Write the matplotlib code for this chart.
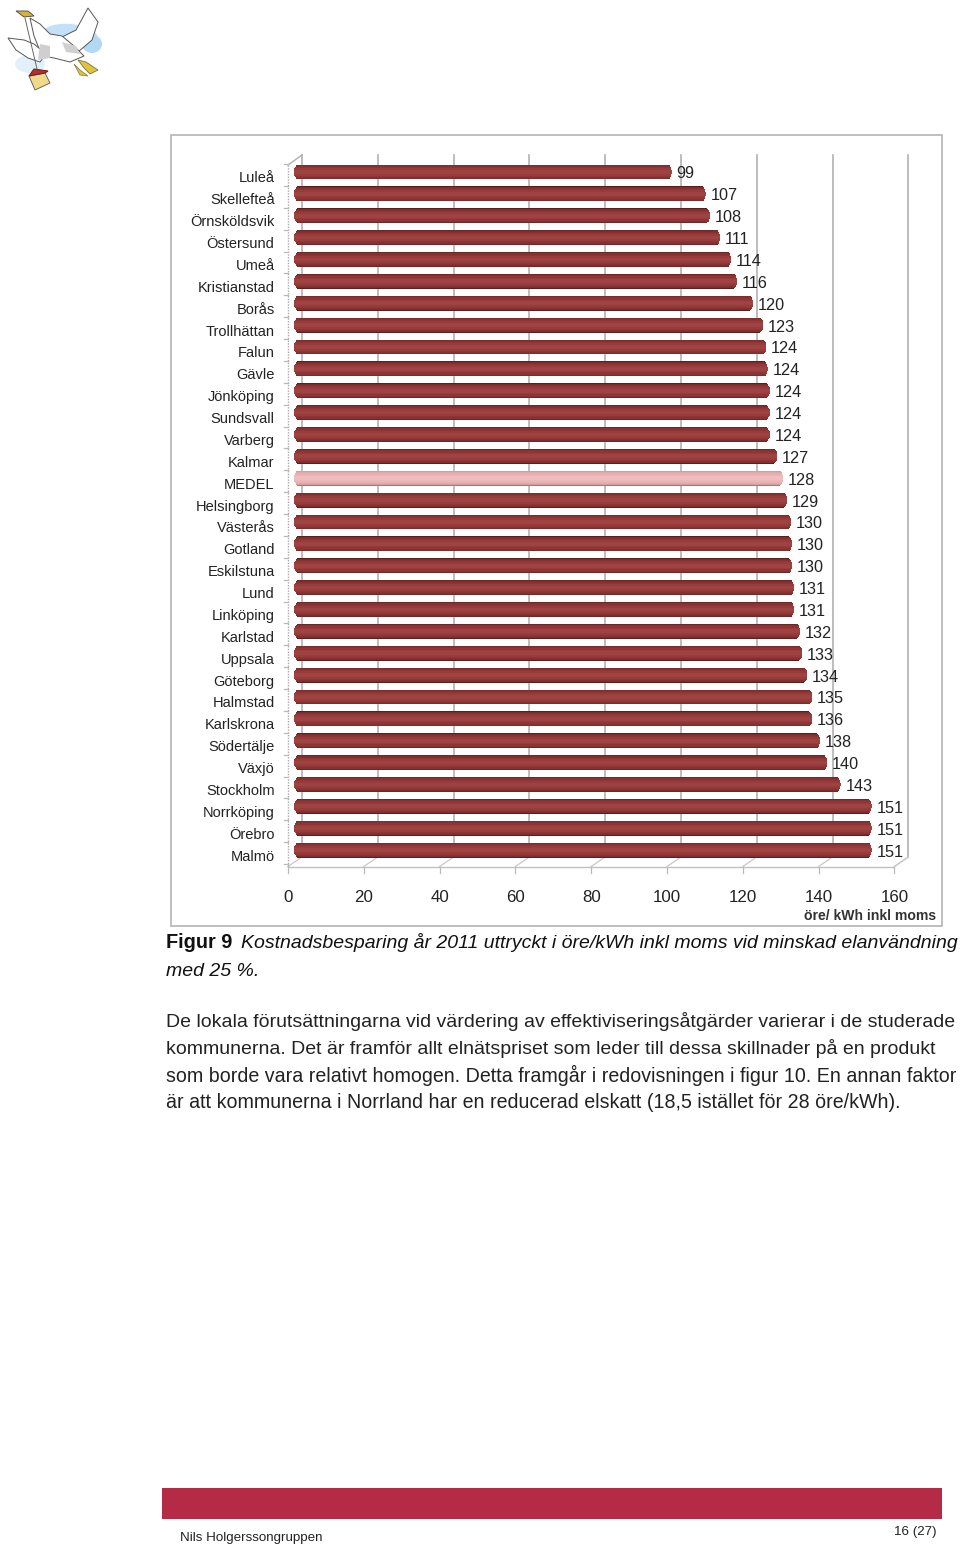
import numpy as np
import matplotlib
matplotlib.use("Agg")
import matplotlib.pyplot as plt
from matplotlib.patches import Rectangle, Ellipse, Polygon
from matplotlib.lines import Line2D
from matplotlib.transforms import ScaledTranslation

plt.rcParams['font.family'] = ['Liberation Sans', 'DejaVu Sans']

categories = ["Luleå","Skellefteå","Örnsköldsvik","Östersund","Umeå","Kristianstad","Borås",
              "Trollhättan","Falun","Gävle","Jönköping","Sundsvall","Varberg","Kalmar","MEDEL",
              "Helsingborg","Västerås","Gotland","Eskilstuna","Lund","Linköping","Karlstad",
              "Uppsala","Göteborg","Halmstad","Karlskrona","Södertälje","Växjö","Stockholm",
              "Norrköping","Örebro","Malmö"]
values = [99,107,108,111,114,116,120,123,124,124,124,124,124,127,128,129,130,130,130,131,131,
          132,133,134,135,136,138,140,143,151,151,151]
bar_lengths = [99.7,108.7,109.8,112.5,115.4,117,121.2,123.9,124.7,125,125.6,125.6,125.6,
               127.6,129.1,130.2,131.2,131.5,131.5,132,132,133.6,134.2,135.5,136.8,136.8,
               138.9,140.8,144.3,152.5,152.5,152.5]
xticks = [0,20,40,60,80,100,120,140,160]
unit = "öre/ kWh inkl moms"

W, H = 960, 1547
fig = plt.figure(figsize=(W/100, H/100), dpi=100, facecolor='white')

def axpx(l, t, r, b, **kw):
    return fig.add_axes([l/W, 1-b/H, (r-l)/W, (b-t)/H], **kw)

pg = axpx(0, 0, W, H, zorder=0)
pg.set_xlim(0, W); pg.set_ylim(H, 0); pg.axis('off')

# logo
pg.add_patch(Ellipse((70, 36), 56, 24, angle=5, color='#c4e0f6', lw=0))
pg.add_patch(Ellipse((92, 44), 20, 18, color='#b2d8f4', lw=0))
pg.add_patch(Ellipse((30, 64), 30, 18, color='#e2f0fa', lw=0))
wk = dict(facecolor='white', edgecolor='#555555', lw=0.7)
pg.add_patch(Polygon([(88,8),(98,22),(92,40),(78,52),(62,50),(60,38),(76,30)], **wk))
pg.add_patch(Polygon([(30,18),(40,24),(50,34),(62,36),(74,46),(84,56),(70,62),(54,58),(42,56),(34,36)], **wk))
pg.add_patch(Polygon([(8,38),(24,40),(34,44),(46,54),(40,62),(28,58),(16,50)], **wk))
pg.add_patch(Polygon([(40,44),(50,46),(50,58),(38,60)], facecolor='#cfcfcf', lw=0))
pg.add_patch(Polygon([(62,42),(76,46),(80,54),(66,52)], facecolor='#d0d0d0', lw=0))
pg.add_patch(Polygon([(16,11),(28,11),(34,16),(24,17)], facecolor='#d9b23c', edgecolor='#444444', lw=0.6))
pg.add_patch(Polygon([(78,60),(86,62),(98,70),(90,74),(84,68)], facecolor='#e0c23c', edgecolor='#777744', lw=0.6))
pg.add_patch(Polygon([(74,64),(80,70),(88,76),(80,75)], facecolor='#e0c23c', edgecolor='#777744', lw=0.5))
pg.add_patch(Polygon([(29,76),(45,73),(50,83),(35,90)], facecolor='#efd98a', edgecolor='#555555', lw=0.6))
pg.add_patch(Polygon([(29,76),(34,69),(48,71),(45,73)], facecolor='#b33030', edgecolor='#7a1f1f', lw=0.8))
pg.plot([25, 37], [18, 69], color='#666666', lw=0.7)

# chart frame
pg.add_patch(Rectangle((170.5, 134.5), 771.5, 791.5, fill=False, ec='#b4b4b4', lw=1.2))

# footer
pg.add_patch(Rectangle((162, 1488), 780, 30.5, color='#b52b45', lw=0))
pg.text(180, 1541, "Nils Holgerssongruppen", fontsize=9.6, va='baseline', color='#222222')
pg.text(937, 1535, "16 (27)", fontsize=9.6, va='baseline', ha='right', color='#222222')

# caption + body text
pg.text(166, 947.5, "Figur 9", fontsize=14.3, fontweight='bold', va='baseline', color='#111111')
pg.text(241, 947.5, "Kostnadsbesparing år 2011 uttryckt i öre/kWh inkl moms vid minskad elanvändning",
        fontsize=14.0, style='italic', va='baseline', color='#111111')
pg.text(166, 975.5, "med 25 %.", fontsize=14.0, style='italic', va='baseline', color='#111111')
body = ["De lokala förutsättningarna vid värdering av effektiviseringsåtgärder varierar i de studerade",
        "kommunerna. Det är framför allt elnätspriset som leder till dessa skillnader på en produkt",
        "som borde vara relativt homogen. Detta framgår i redovisningen i figur 10. En annan faktor",
        "är att kommunerna i Norrland har en reducerad elskatt (18,5 istället för 28 öre/kWh)."]
for line, y, fs in zip(body, [1027, 1054, 1081.5, 1108], [14.0, 14.0, 14.1, 14.15]):
    pg.text(166, y, line, fontsize=fs, va='baseline', color='#222222')

# chart axes
ax = axpx(294, 161, 294 + 160*3.79, 861, zorder=2)
ax.patch.set_alpha(0)
ax.set_xlim(0, 160)
ax.set_ylim(31.5, -0.5)
for s in ax.spines.values():
    s.set_visible(False)

n = len(categories)
ypos = np.arange(n)
fracs = [1.00, 0.96, 0.90, 0.80, 0.66, 0.48, 0.26]
reds  = ['#5a2020', '#6e2828', '#7e2d2d', '#883131', '#8f3535', '#973b3b', '#9e4242']
pinks = ['#a87676', '#c48e8e', '#d69f9f', '#e0a8a8', '#e6afaf', '#ebb6b6', '#efbdbd']
height = 0.68
radius = 1.1
for idx, (f, red, pink) in enumerate(zip(fracs, reds, pinks)):
    inset = radius*(1-np.sqrt(1-(f*0.97)**2))
    lengths = [b - 2*inset for b in bar_lengths]
    colors = [pink if c == "MEDEL" else red for c in categories]
    ax.barh(ypos, lengths, height=height*f, left=inset, color=colors, lw=0, zorder=5+idx)

for i, (v, b) in enumerate(zip(values, bar_lengths)):
    ax.annotate(str(v), (b, i), xytext=(4.5, -2), textcoords='offset pixels', va='center',
                ha='left', fontsize=11.7, color='#222222', zorder=20, annotation_clip=False)

ax.set_xticks([])
ax.set_yticks(ypos, labels=categories)
ax.tick_params(axis='y', length=0, pad=14, labelsize=10.5, labelcolor='#222222')
shift = ScaledTranslation(0, -5/100, fig.dpi_scale_trans)
for lab in ax.get_yticklabels():
    lab.set_transform(lab.get_transform() + shift)

# 3-D frame
floor_y, back_y, top_y = 866.5, 857, 155
fx = lambda v: 288 + v*3.79
grid = '#b2b2b2'
for v in xticks:
    x = fx(v)
    pg.add_line(Line2D([x+14, x+14], [top_y, back_y], color=grid, lw=1.2))
    pg.add_line(Line2D([x+14, x], [back_y, floor_y], color='#c8c8c8', lw=0.9))
    pg.add_line(Line2D([x, x], [floor_y, floor_y+6], color='#b8b8b8', lw=0.9))
    pg.text(x, 902, str(v), ha='center', va='baseline', fontsize=12.2, color='#222222')
pg.add_line(Line2D([fx(0), fx(160)], [floor_y, floor_y], color='#c0c0c0', lw=1.0))
pg.add_line(Line2D([fx(0), fx(0)], [165, floor_y], color='#aaaaaa', lw=1.0, ls=(0,(1,1))))
pg.add_line(Line2D([fx(0), fx(0)+14], [165, top_y], color='#b0b0b0', lw=1.0))
pg.add_line(Line2D([fx(160), fx(160)+14], [floor_y, back_y], color='#c8c8c8', lw=0.9))
for i in range(n+1):
    y = 164 + i*21.875
    pg.add_line(Line2D([fx(0)-4, fx(0)], [y, y], color='#b8b8b8', lw=0.9))
pg.text(936, 919.5, unit, ha='right', va='baseline', fontsize=10.1, fontweight='bold', color='#333333')

fig.savefig('out.png', dpi=100)
